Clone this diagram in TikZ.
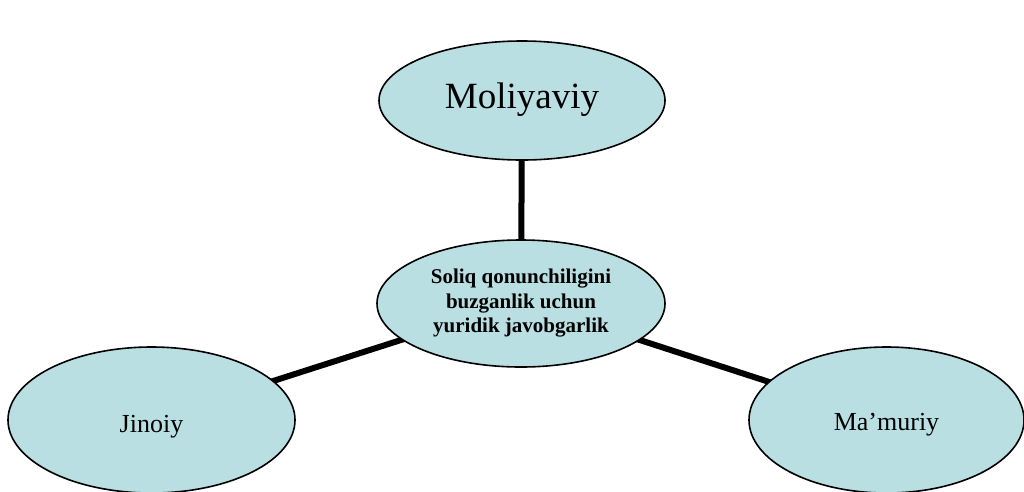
\documentclass[tikz,border=0pt]{standalone}
\usepackage{fontspec}
\setmainfont{Liberation Serif}
\usetikzlibrary{shapes.geometric}
\definecolor{bubble}{RGB}{185,223,227}
\tikzset{
  bubble/.style={ellipse, draw=black, line width=1.6pt, fill=bubble,
    inner sep=0pt, text=black},
  link/.style={line width=6pt, black}
}
\begin{document}
\begin{tikzpicture}[x=1pt,y=-1pt]
  \useasboundingbox (0,0) rectangle (1024,491);
  % links between the central idea and its three branches
  \coordinate (cc) at (521,301.5);
  \coordinate (tc) at (522,100.5);
  \coordinate (lc) at (151.5,420);
  \coordinate (rc) at (886.5,420);
  \draw[link] (tc) -- (cc);
  \draw[link] (lc) -- (cc);
  \draw[link] (rc) -- (cc);
  % ellipses
  \node[bubble, minimum width=286pt, minimum height=119pt,
        font=\fontsize{37}{44}\selectfont, text height=15pt, text depth=0pt]
        (top) at (tc) {Moliyaviy};
  \node[bubble, minimum width=288pt, minimum height=127pt, align=center,
        font=\fontsize{21}{24.5}\selectfont\bfseries, yshift=-2pt]
        (mid) at (cc) {Soliq qonunchiligini\\buzganlik uchun\\yuridik javobgarlik};
  \node[bubble, minimum width=287pt, minimum height=146pt,
        font=\fontsize{26}{31}\selectfont, text height=24pt, text depth=0pt]
        (left) at (lc) {Jinoiy};
  \node[bubble, minimum width=275pt, minimum height=146pt,
        font=\fontsize{26}{31}\selectfont, text height=20pt, text depth=0pt]
        (right) at (rc) {Ma’muriy};
\end{tikzpicture}
\end{document}
